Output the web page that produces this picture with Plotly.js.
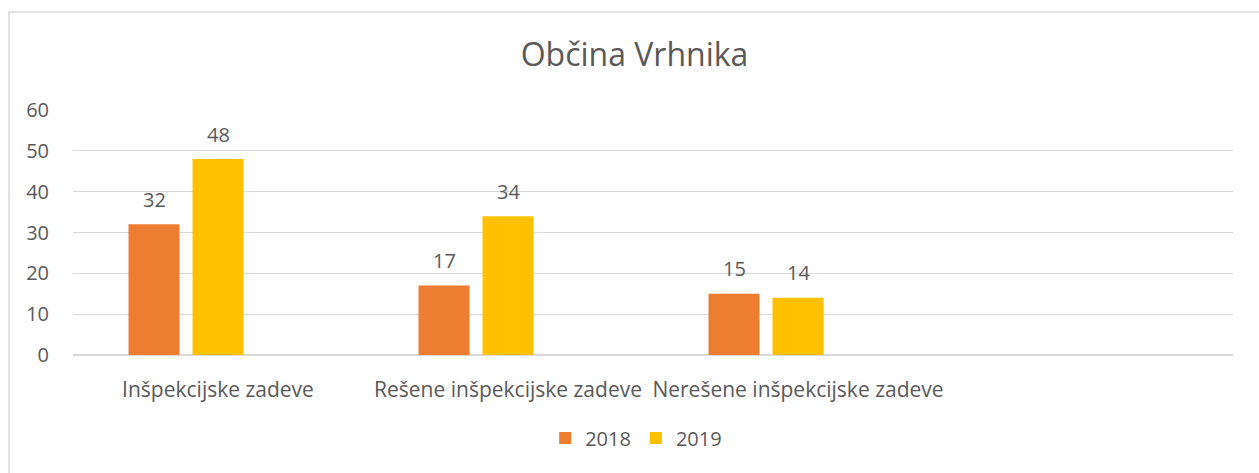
<!DOCTYPE html>
<html>
<head>
<meta charset="utf-8">
<script src="https://cdn.plot.ly/plotly-3.0.1.min.js"></script>
<style>html,body{margin:0;padding:0;background:#fff;}#chart{width:1259px;height:473px;}</style>
</head>
<body>
<div id="chart"></div>
<script>
const categories = ["Inšpekcijske zadeve", "Rešene inšpekcijske zadeve", "Nerešene inšpekcijske zadeve", " "];
const series2018 = [32, 17, 15, null];
const series2019 = [48, 34, 14, null];
const seriesEmpty = [null, null, null, null];
const seriesNames = ["2018", "2019", ""];
const chartTitle = "Občina Vrhnika";
const yTicks = [0, 10, 20, 30, 40, 50, 60];

const colors = ["#ED7D31", "#FFC000", "#A5A5A5"];
const textColor = "#595959";
const font = "Open Sans, Noto Sans, sans-serif";

const allSeries = [series2018, series2019, seriesEmpty];
const traces = allSeries.map((vals, i) => ({
  type: "bar",
  x: categories,
  y: vals,
  name: seriesNames[i],
  marker: {color: colors[i]},
  showlegend: i < 2,
  hoverinfo: "skip"
}));

// data labels positioned via the axes from the data values
const slotPx = 64;
const annotations = [];
allSeries.forEach((vals, i) => {
  if (i > 1) return;
  vals.forEach((v, j) => {
    if (v === null) return;
    annotations.push({
      x: categories[j], y: v, xref: "x", yref: "y",
      text: String(v), showarrow: false,
      xshift: (i - 1) * slotPx, yshift: 25, yanchor: "middle",
      font: {family: font, size: 20, color: textColor}
    });
  });
});

const layout = {
  width: 1259, height: 473,
  margin: {l: 73, r: 26, t: 110, b: 118},
  paper_bgcolor: "#fff", plot_bgcolor: "#fff",
  title: {text: chartTitle, x: 0.504, xanchor: "center", y: 0.885, yanchor: "middle",
          xref: "container", yref: "container",
          font: {family: font, size: 32, color: textColor}},
  barmode: "group",
  bargap: 0.338,
  bargroupgap: 0.203,
  xaxis: {
    type: "category", showgrid: false, zeroline: false, showline: false,
    ticks: "", ticklabelstandoff: 20,
    tickfont: {family: font, size: 21, color: textColor},
    fixedrange: true
  },
  yaxis: {
    range: [0, 60], tickvals: yTicks, showgrid: true, gridcolor: "#D9D9D9", gridwidth: 1.3,
    zeroline: true, zerolinecolor: "#D9D9D9", zerolinewidth: 1.3, showline: false,
    ticks: "", ticklabelstandoff: 23,
    tickfont: {family: font, size: 20, color: textColor},
    fixedrange: true
  },
  legend: {orientation: "h", x: 0.4855, xanchor: "center", y: -0.339, yanchor: "middle",
           font: {family: font, size: 20, color: textColor}, itemwidth: 30,
           traceorder: "normal"},
  annotations: annotations,
  shapes: [{type: "rect", xref: "paper", yref: "paper", x0: -0.0552, x1: 1.05, y0: -0.6, y1: 1.4,
            line: {color: "#D9D9D9", width: 1.5}, fillcolor: "rgba(0,0,0,0)", layer: "below"}]
};

Plotly.newPlot("chart", traces, layout, {displayModeBar: false, staticPlot: true});
</script>
</body>
</html>
